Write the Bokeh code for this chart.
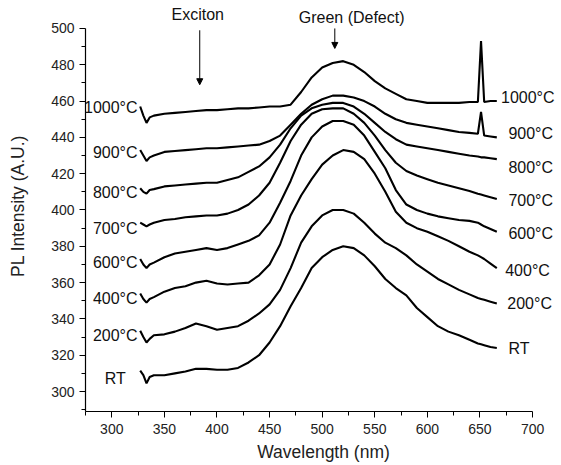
from bokeh.plotting import figure
from bokeh.models import (FixedTicker, Label, LabelSet, ColumnDataSource,
                          Arrow, NormalHead, Range1d)
from bokeh.core.properties import value
from bokeh.embed import file_html
from bokeh.resources import INLINE

# ---------------- data ----------------
wavelength = [327, 330, 333, 336, 340, 350, 360, 370, 380, 390, 400, 410, 420, 430,
              440, 450, 460, 470, 480, 490, 500, 510, 520, 530, 540, 550, 560, 570,
              580, 590, 600, 610, 620, 630, 640, 648, 651, 654, 660, 666]

pl_1000 = [457, 452, 448, 451, 452, 453, 453.5, 454, 454.5, 455, 455, 455.5, 456, 456,
           456.5, 457, 457, 458, 465, 473, 478.5, 481, 482, 480, 476, 471, 467, 464,
           461, 460, 459, 459, 459, 459, 459.5, 459.5, 493, 459.5, 460, 460]
pl_900 = [433, 430, 427, 429, 430, 432, 432.5, 433, 433.5, 434, 434, 434.5, 435, 435.5,
          436, 438, 441, 447, 453, 458, 461, 463, 463, 462, 460, 457, 453, 450,
          448, 447, 446, 445, 444, 443, 442.5, 442, 454, 441, 440.5, 440]
pl_800 = [412, 410, 409, 411, 411.5, 413, 413.5, 414, 414.5, 415, 415, 416.5, 418, 421,
          424, 429, 436, 445, 452, 456, 458, 459, 459, 457, 453, 448, 443, 439,
          436, 435, 434, 433, 432, 431, 430, 429.5, 429, 429, 428.5, 428]
pl_700 = [393, 392, 391, 392, 393, 394.5, 395, 396, 396.5, 397, 397, 398, 400, 403,
          408, 415, 426, 438, 447, 453, 455.5, 456, 456, 453, 448, 441, 433, 426,
          421.5, 419, 417, 415, 413.5, 412, 410.5, 409, 408.5, 408, 407, 406]
pl_600 = [373, 370, 368, 370, 371, 374, 376, 377, 378, 379, 378, 379, 381, 383,
          386, 393, 404, 416, 430, 440, 446, 449, 449, 447, 441, 432, 423, 411,
          403, 400, 398, 396.5, 395.5, 394.5, 394, 393, 392, 391, 389.5, 388]
pl_400 = [354, 351, 349, 351, 352, 355, 357, 358, 360, 361, 359.5, 359, 359.5, 360,
          364, 370, 381, 397, 408, 417, 425, 430, 433, 432, 428, 420, 410, 399,
          393, 390, 388, 385.5, 383, 380, 377, 375, 374, 373, 370.5, 368]
pl_200 = [333.5, 330, 327, 329, 331, 331.5, 333, 335, 337.5, 336, 334, 335, 336, 339,
          343, 348, 356, 368, 382, 391, 397, 400, 400, 398, 393, 387, 382, 379,
          375, 370, 366, 362, 359, 356, 353.5, 351.5, 351, 350.5, 349.5, 348.5]
pl_rt = [311.5, 309, 304.5, 308, 309, 309, 310, 311, 312.5, 312.5, 312, 312, 313, 316,
         320, 327, 336, 347, 357, 368, 374, 378, 380, 379, 375, 369, 362, 357,
         353, 346, 341, 336, 333, 331, 328.5, 326.5, 326, 325.5, 324.5, 324]

series = [pl_1000, pl_900, pl_800, pl_700, pl_600, pl_400, pl_200, pl_rt]
sample_names = ["1000°C", "900°C", "800°C", "700°C", "600°C", "400°C", "200°C", "RT"]

# curve labels: left end and right end (data coordinates)
left_label_x = [324.5, 324.5, 324.5, 324.5, 324.5, 324.5, 324.5, 313.3]
left_label_y = [456.5, 431.7, 409.6, 389.8, 371.0, 351.0, 330.9, 307.0]
right_label_x = [670.0, 677.0, 677.0, 677.0, 677.0, 674.0, 676.0, 677.0]
right_label_y = [462.0, 442.1, 423.4, 405.2, 387.0, 366.7, 348.5, 323.7]

x_ticks = [300, 350, 400, 450, 500, 550, 600, 650, 700]
x_minor = [275, 325, 375, 425, 475, 525, 575, 625, 675]
y_ticks = [300, 320, 340, 360, 380, 400, 420, 440, 460, 480, 500]
y_minor = [290, 310, 330, 350, 370, 390, 410, 430, 450, 470, 490]

annot_text = ["Exciton", "Green (Defect)"]
annot_text_x = [381.7, 528.0]
annot_text_y = [507.7, 506.0]
arrow_x = [383.6, 512.0]
arrow_y_start = [499.0, 500.0]
arrow_y_end = [469.0, 489.0]

FONT = "Liberation Sans"

# axis extents (axes drawn only over these)
X_AXIS_BOUNDS = (275, 700)
Y_AXIS_BOUNDS = (289, 500)

# ---------------- figure ----------------
p = figure(width=561, height=465, output_backend="svg", toolbar_location=None,
           x_range=Range1d(275, 727.5), y_range=Range1d(289, 515.4),
           min_border_left=85, min_border_right=0, min_border_top=0,
           min_border_bottom=54)
p.outline_line_color = None
p.grid.visible = False
p.background_fill_color = "white"
p.border_fill_color = "white"

for s in series:
    p.line(wavelength, s, line_color="black", line_width=2.1)

# axes
p.xaxis.ticker = FixedTicker(ticks=x_ticks, minor_ticks=x_minor)
p.yaxis.ticker = FixedTicker(ticks=y_ticks, minor_ticks=y_minor)
p.xaxis.bounds = X_AXIS_BOUNDS
p.yaxis.bounds = Y_AXIS_BOUNDS
p.xaxis.axis_label = "Wavelength (nm)"
p.yaxis.axis_label = "PL Intensity (A.U.)"
for ax in (p.xaxis, p.yaxis):
    ax.axis_line_color = "black"
    ax.axis_line_width = 1.2
    ax.major_tick_line_color = "black"
    ax.minor_tick_line_color = "black"
    ax.major_tick_out = 6
    ax.major_tick_in = 0
    ax.minor_tick_out = 4
    ax.minor_tick_in = 0
    ax.major_label_text_font = FONT
    ax.major_label_text_font_size = "14px"
    ax.major_label_text_color = "#222222"
    ax.axis_label_text_font = FONT
    ax.axis_label_text_font_size = "17.5px"
    ax.axis_label_text_font_style = "normal"
    ax.axis_label_text_color = "#222222"
p.xaxis.major_label_standoff = 6
p.xaxis.axis_label_standoff = 5
p.yaxis.major_label_standoff = 5
p.yaxis.axis_label_standoff = 20

# curve labels
left_src = ColumnDataSource(dict(x=left_label_x, y=left_label_y, t=sample_names))
right_src = ColumnDataSource(dict(x=right_label_x, y=right_label_y, t=sample_names))
p.add_layout(LabelSet(x="x", y="y", text="t", source=left_src, text_align="right",
                      text_baseline="middle", text_font=value(FONT),
                      text_font_size="16px", text_color="#111111"))
p.add_layout(LabelSet(x="x", y="y", text="t", source=right_src, text_align="left",
                      text_baseline="middle", text_font=value(FONT),
                      text_font_size="16px", text_color="#111111"))

# annotations
for t, tx, ty in zip(annot_text, annot_text_x, annot_text_y):
    p.add_layout(Label(x=tx, y=ty, text=t, text_align="center", text_baseline="middle",
                       text_font=FONT, text_font_size="16px", text_color="#111111"))
for ax_, ys, ye in zip(arrow_x, arrow_y_start, arrow_y_end):
    p.add_layout(Arrow(end=NormalHead(size=6, fill_color="black", line_color="black"),
                       x_start=ax_, y_start=ys, x_end=ax_, y_end=ye,
                       line_color="black", line_width=1))

open("out.html", "w").write(file_html(p, INLINE))
